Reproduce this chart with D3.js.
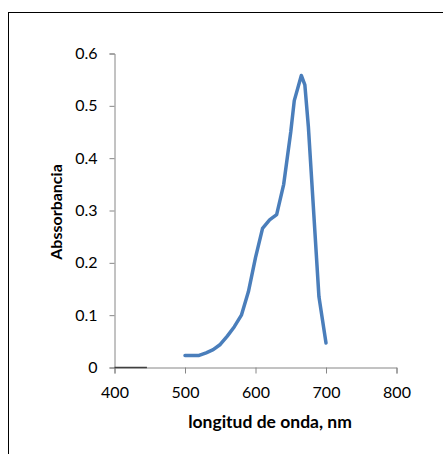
<!DOCTYPE html>
<html><head><meta charset="utf-8">
<script src="https://cdn.jsdelivr.net/npm/d3@7"></script>
<style>body{margin:0;background:#fff}svg{display:block}text{font-family:Lato,"Open Sans",sans-serif}</style>
</head><body>
<script>
const wavelength = [500,510,520,530,540,550,560,570,580,590,600,610,620,630,640,650,655,665,670,675,690,700];
const absorbance = [0.023,0.023,0.023,0.028,0.034,0.044,0.060,0.078,0.100,0.145,0.210,0.266,0.282,0.292,0.350,0.450,0.510,0.558,0.540,0.460,0.135,0.047];
const baseX = [400,446];
const baseY = [0,0];
const xTicks = [400,500,600,700,800];
const yTicks = [0,0.1,0.2,0.3,0.4,0.5,0.6];
const xTitle = "longitud de onda, nm";
const yTitle = "Abssorbancia";

const W = 443, H = 454;
const svg = d3.select("body").append("svg").attr("width",W).attr("height",H);
svg.append("rect").attr("x",8.5).attr("y",12.5).attr("width",460).attr("height",470)
  .attr("fill","#fff").attr("stroke","#000").attr("stroke-width",1);

const x = d3.scaleLinear().domain([400,800]).range([114.5,396.5]);
const y = d3.scaleLinear().domain([0,0.6]).range([367.5,53.5]);

const axisColor = "#868686";
const gx = svg.append("g").attr("transform","translate(0,367.5)")
  .call(d3.axisBottom(x).tickValues(xTicks).tickSize(6).tickPadding(13).tickFormat(d3.format("d")));
const gy = svg.append("g").attr("transform","translate(114.5,0)")
  .call(d3.axisLeft(y).tickValues(yTicks).tickSize(5).tickPadding(12).tickFormat(d=>d===0?"0":d3.format(".1f")(d)));
[gx,gy].forEach(g=>{
  g.select(".domain").attr("stroke",axisColor);
  g.selectAll(".tick line").attr("stroke",axisColor);
  g.selectAll(".tick text").attr("fill","#000").style("font-size","16px").style("font-family","Lato");
});

const line = d3.line().x((d,i)=>x(d[0])).y(d=>y(d[1]));
svg.append("path").datum(baseX.map((v,i)=>[v,baseY[i]]))
  .attr("d",line).attr("fill","none").attr("stroke","#404040").attr("stroke-width",1.5);
svg.append("path").datum(wavelength.map((v,i)=>[v,absorbance[i]]))
  .attr("d",line).attr("fill","none").attr("stroke","#4A7EBB")
  .attr("stroke-width",3.5).attr("stroke-linejoin","round").attr("stroke-linecap","round");

svg.append("text").attr("x",270).attr("y",428).attr("text-anchor","middle")
  .style("font-size","17.5px").style("font-weight","bold").text(xTitle);
svg.append("text").attr("transform","translate(62,212) rotate(-90)").attr("text-anchor","middle")
  .style("font-size","16px").style("font-weight","bold").text(yTitle);
</script>
</body></html>
